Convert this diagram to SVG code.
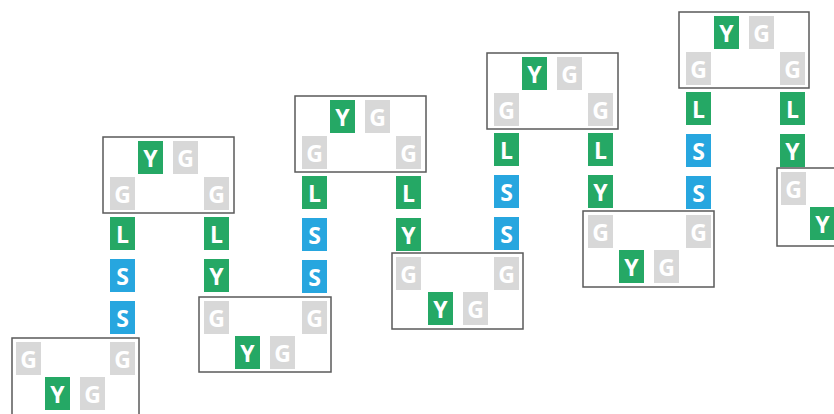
<svg xmlns="http://www.w3.org/2000/svg" width="834" height="414" viewBox="0 0 834 414">
<defs>
<style>
.box{fill:#fff;stroke:#5a5a5a;stroke-width:1.5}
.g{fill:#d8d8d8}
.y,.l{fill:#25a865}
.s{fill:#27a6df}
text{font-family:"Open Sans","Liberation Sans",sans-serif;font-weight:bold;font-size:23px;fill:#fff;text-anchor:middle}
</style>
<g id="tG"><rect class="g" width="25" height="33"/><text x="12.5" y="25.5">G</text></g>
<g id="tY"><rect class="y" width="25" height="33"/><text x="12.5" y="25.5">Y</text></g>
<g id="tL"><rect class="l" width="25" height="33"/><text x="12.5" y="25.5">L</text></g>
<g id="tS"><rect class="s" width="25" height="33"/><text x="12.5" y="25.5">S</text></g>
</defs>
<rect width="834" height="414" fill="#fff"/>
<g id="connectors">
<use href="#tL" x="110" y="217"/><use href="#tS" x="110" y="259"/><use href="#tS" x="110" y="301"/>
<use href="#tL" x="204" y="217"/><use href="#tY" x="204" y="259"/>
<use href="#tL" x="302" y="176"/><use href="#tS" x="302" y="218"/><use href="#tS" x="302" y="260"/>
<use href="#tL" x="396" y="176"/><use href="#tY" x="396" y="218"/>
<use href="#tL" x="494" y="133"/><use href="#tS" x="494" y="175"/><use href="#tS" x="494" y="217"/>
<use href="#tL" x="588" y="133"/><use href="#tY" x="588" y="175"/>
<use href="#tL" x="686" y="92"/><use href="#tS" x="686" y="134"/><use href="#tS" x="686" y="176"/>
<use href="#tL" x="780" y="92"/><use href="#tY" x="780" y="134"/>
</g>
<g id="b0"><rect class="box" x="12" y="338" width="127" height="78"/>
<use href="#tG" x="16" y="342"/><use href="#tG" x="110" y="342"/><use href="#tY" x="45" y="377"/><use href="#tG" x="80" y="377"/></g>
<g id="t1"><rect class="box" x="103" y="137" width="131" height="76"/>
<use href="#tY" x="138" y="141"/><use href="#tG" x="173" y="141"/><use href="#tG" x="110" y="177"/><use href="#tG" x="204" y="177"/></g>
<g id="b1"><rect class="box" x="199" y="297" width="132" height="75"/>
<use href="#tG" x="204" y="301"/><use href="#tG" x="302" y="301"/><use href="#tY" x="235" y="336"/><use href="#tG" x="270" y="336"/></g>
<g id="t2"><rect class="box" x="295" y="96" width="131" height="76"/>
<use href="#tY" x="330" y="100"/><use href="#tG" x="365" y="100"/><use href="#tG" x="302" y="136"/><use href="#tG" x="396" y="136"/></g>
<g id="b2"><rect class="box" x="392" y="253" width="131" height="76"/>
<use href="#tG" x="396" y="257"/><use href="#tG" x="494" y="257"/><use href="#tY" x="428" y="292"/><use href="#tG" x="463" y="292"/></g>
<g id="t3"><rect class="box" x="487" y="53" width="131" height="76"/>
<use href="#tY" x="522" y="57"/><use href="#tG" x="557" y="57"/><use href="#tG" x="494" y="93"/><use href="#tG" x="588" y="93"/></g>
<g id="b3"><rect class="box" x="583" y="211" width="131" height="76"/>
<use href="#tG" x="588" y="215"/><use href="#tG" x="686" y="215"/><use href="#tY" x="619" y="250"/><use href="#tG" x="654" y="250"/></g>
<g id="t4"><rect class="box" x="679" y="12" width="130" height="76"/>
<use href="#tY" x="714" y="16"/><use href="#tG" x="749" y="16"/><use href="#tG" x="686" y="52"/><use href="#tG" x="780" y="52"/></g>
<g id="b4"><rect class="box" x="777" y="168" width="80" height="78"/>
<use href="#tG" x="781" y="172"/><use href="#tY" x="810" y="207"/></g>
</svg>
